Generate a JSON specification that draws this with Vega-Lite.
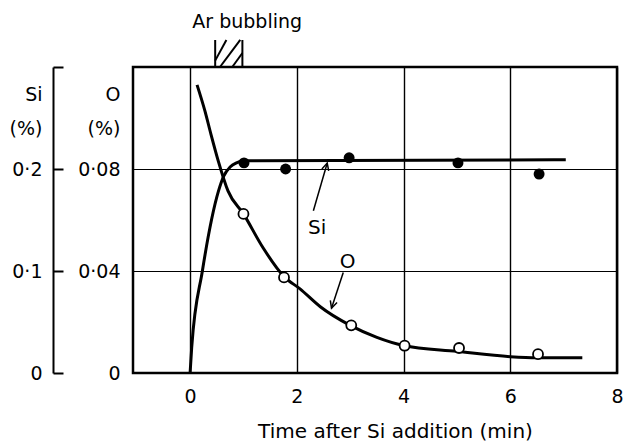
{
  "$schema": "https://vega.github.io/schema/vega-lite/v6.json",
  "width": 484,
  "height": 306,
  "autosize": {"type": "none"},
  "padding": {"left": 133, "top": 67, "right": 6, "bottom": 68},
  "background": "white",
  "config": {
    "font": "DejaVu Sans",
    "view": {"stroke": "black", "strokeWidth": 2.5},
    "axis": {"labelColor": "black", "titleColor": "black", "labelFont": "DejaVu Sans", "titleFont": "DejaVu Sans", "titleFontWeight": "normal", "labelFlush": false, "labelOverlap": false}
  },
  "datasets": {
    "o_curve": [
      {"t": 0.13, "o": 0.113}, {"t": 0.28, "o": 0.1026}, {"t": 0.39, "o": 0.0937}, {"t": 0.53, "o": 0.083},
      {"t": 0.71, "o": 0.0714}, {"t": 1.0, "o": 0.0624}, {"t": 1.37, "o": 0.049}, {"t": 1.76, "o": 0.0378},
      {"t": 2.06, "o": 0.033}, {"t": 2.44, "o": 0.026}, {"t": 3.0, "o": 0.0187}, {"t": 3.5, "o": 0.014},
      {"t": 4.0, "o": 0.0108}, {"t": 5.0, "o": 0.0085}, {"t": 6.0, "o": 0.0064}, {"t": 6.5, "o": 0.006}, {"t": 7.35, "o": 0.006}
    ],
    "o_points": [
      {"t": 1.0, "o": 0.0624}, {"t": 1.76, "o": 0.0375}, {"t": 3.02, "o": 0.0187},
      {"t": 4.02, "o": 0.0107}, {"t": 5.04, "o": 0.0098}, {"t": 6.52, "o": 0.0074}
    ],
    "si_curve": [
      {"t": 0.0, "si": 0.0}, {"t": 0.03, "si": 0.025}, {"t": 0.23, "si": 0.1}, {"t": 0.53, "si": 0.178},
      {"t": 0.63, "si": 0.193}, {"t": 0.75, "si": 0.202}, {"t": 0.87, "si": 0.206}, {"t": 1.0, "si": 0.208},
      {"t": 7.04, "si": 0.209}
    ],
    "si_points": [
      {"t": 1.01, "si": 0.206}, {"t": 1.79, "si": 0.2}, {"t": 2.98, "si": 0.211},
      {"t": 5.02, "si": 0.206}, {"t": 6.54, "si": 0.195}
    ],
    "labels_o": [
      {"t": 2.95, "o": 0.0437, "label": "O"}
    ],
    "labels_si": [
      {"t": 2.38, "si": 0.1425, "label": "Si"}
    ],
    "arrow_o": [
      {"t": 2.87, "o": 0.0394, "t2": 2.65, "o2": 0.0254}
    ],
    "arrow_si": [
      {"t": 2.31, "si": 0.159, "t2": 2.57, "si2": 0.2058}
    ],
    "ar_box": [
      {"t": 0.47, "o": 0.12, "t2": 0.47, "o2": 0.1306},
      {"t": 0.98, "o": 0.12, "t2": 0.98, "o2": 0.1306},
      {"t": 0.47, "o": 0.1225, "t2": 0.68, "o2": 0.1306},
      {"t": 0.56, "o": 0.12, "t2": 0.94, "o2": 0.1306},
      {"t": 0.79, "o": 0.12, "t2": 0.98, "o2": 0.1255}
    ],
    "ar_label": [
      {"t": 1.07, "o": 0.1376, "label": "Ar bubbling"}
    ]
  },
  "layer": [
    {
      "layer": [
        {
          "data": {"name": "o_curve"},
          "mark": {"type": "line", "interpolate": "monotone", "color": "black", "strokeWidth": 3, "clip": false},
          "encoding": {
            "x": {"field": "t", "type": "quantitative", "scale": {"domain": [-1.07, 8], "nice": false, "zero": false},
              "axis": {"values": [0, 2, 4, 6, 8], "grid": true, "gridColor": "black", "gridWidth": 1.4, "gridOpacity": 1,
                "ticks": false, "domain": false, "labelFontSize": 19, "labelPadding": 14, "format": "d",
                "title": "Time after Si addition (min)", "titleFontSize": 20, "titlePadding": 15, "titleX": 262, "titleAlign": "center"}},
            "y": {"field": "o", "type": "quantitative", "scale": {"domain": [0, 0.12], "nice": false, "zero": false},
              "axis": {"values": [0, 0.04, 0.08], "grid": true, "gridColor": "black", "gridWidth": 1.1, "gridOpacity": 1,
                "ticks": false, "domain": false, "labelFontSize": 19, "labelPadding": 13,
                "labelExpr": "datum.value == 0 ? '0' : replace(format(datum.value, '.2f'), '.', '·')",
                "title": ["O", "(%)"], "titleAngle": 0, "titleAlign": "right", "titleBaseline": "alphabetic",
                "titleX": -13, "titleY": 33, "titleLineHeight": 34, "titleFontSize": 19}}
          }
        },
        {
          "data": {"name": "o_points"},
          "mark": {"type": "point", "shape": "circle", "filled": true, "fill": "white", "stroke": "black", "strokeWidth": 1.8, "size": 100, "opacity": 1},
          "encoding": {
            "x": {"field": "t", "type": "quantitative"},
            "y": {"field": "o", "type": "quantitative"}
          }
        },
        {
          "data": {"name": "labels_o"},
          "mark": {"type": "text", "fontSize": 20, "color": "black"},
          "encoding": {
            "x": {"field": "t", "type": "quantitative"},
            "y": {"field": "o", "type": "quantitative"},
            "text": {"field": "label"}
          }
        },
        {
          "data": {"name": "arrow_o"},
          "mark": {"type": "rule", "color": "black", "strokeWidth": 1.5},
          "encoding": {
            "x": {"field": "t", "type": "quantitative"},
            "y": {"field": "o", "type": "quantitative"},
            "x2": {"field": "t2"},
            "y2": {"field": "o2"}
          }
        },
        {
          "data": {"name": "arrow_o"},
          "mark": {"type": "point", "shape": "M-0.5,1L0,0L0.5,1", "filled": false, "stroke": "black", "strokeWidth": 1.5, "size": 200, "angle": 198, "opacity": 1},
          "encoding": {
            "x": {"field": "t2", "type": "quantitative"},
            "y": {"field": "o2", "type": "quantitative"}
          }
        },
        {
          "data": {"name": "ar_box"},
          "mark": {"type": "rule", "color": "black", "strokeWidth": 2, "clip": false},
          "encoding": {
            "x": {"field": "t", "type": "quantitative"},
            "y": {"field": "o", "type": "quantitative"},
            "x2": {"field": "t2"},
            "y2": {"field": "o2"}
          }
        },
        {
          "data": {"name": "ar_label"},
          "mark": {"type": "text", "fontSize": 19, "color": "black", "clip": false},
          "encoding": {
            "x": {"field": "t", "type": "quantitative"},
            "y": {"field": "o", "type": "quantitative"},
            "text": {"field": "label"}
          }
        }
      ]
    },
    {
      "layer": [
        {
          "data": {"name": "si_curve"},
          "mark": {"type": "line", "interpolate": "monotone", "color": "black", "strokeWidth": 3},
          "encoding": {
            "x": {"field": "t", "type": "quantitative"},
            "y": {"field": "si", "type": "quantitative", "scale": {"domain": [0, 0.3], "nice": false, "zero": false},
              "axis": {"orient": "left", "offset": 80, "values": [0, 0.1, 0.2, 0.3], "grid": false,
                "domain": true, "domainColor": "black", "domainWidth": 2,
                "ticks": true, "tickSize": -10, "tickColor": "black", "tickWidth": 2,
                "labelFontSize": 19, "labelPadding": 21,
                "labelExpr": "datum.value == 0 ? '0' : datum.value > 0.25 ? '' : replace(format(datum.value, '.1f'), '.', '·')",
                "title": ["Si", "(%)"], "titleAngle": 0, "titleAlign": "right", "titleBaseline": "alphabetic",
                "titleX": -11, "titleY": 33, "titleLineHeight": 34, "titleFontSize": 19}}
          }
        },
        {
          "data": {"name": "si_points"},
          "mark": {"type": "point", "shape": "circle", "filled": true, "color": "black", "size": 120, "opacity": 1},
          "encoding": {
            "x": {"field": "t", "type": "quantitative"},
            "y": {"field": "si", "type": "quantitative"}
          }
        },
        {
          "data": {"name": "labels_si"},
          "mark": {"type": "text", "fontSize": 20, "color": "black"},
          "encoding": {
            "x": {"field": "t", "type": "quantitative"},
            "y": {"field": "si", "type": "quantitative"},
            "text": {"field": "label"}
          }
        },
        {
          "data": {"name": "arrow_si"},
          "mark": {"type": "rule", "color": "black", "strokeWidth": 1.5},
          "encoding": {
            "x": {"field": "t", "type": "quantitative"},
            "y": {"field": "si", "type": "quantitative"},
            "x2": {"field": "t2"},
            "y2": {"field": "si2"}
          }
        },
        {
          "data": {"name": "arrow_si"},
          "mark": {"type": "point", "shape": "M-0.5,1L0,0L0.5,1", "filled": false, "stroke": "black", "strokeWidth": 1.5, "size": 200, "angle": 16, "opacity": 1},
          "encoding": {
            "x": {"field": "t2", "type": "quantitative"},
            "y": {"field": "si2", "type": "quantitative"}
          }
        }
      ]
    }
  ],
  "resolve": {"scale": {"y": "independent"}, "axis": {"y": "independent"}}
}
